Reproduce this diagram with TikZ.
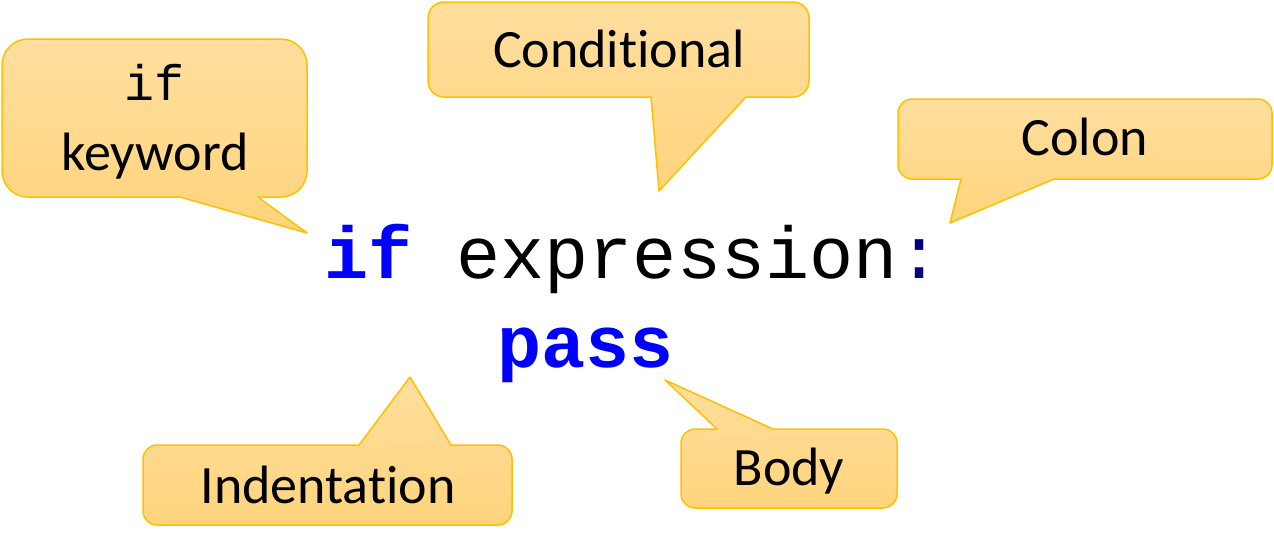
\documentclass[tikz,border=0pt]{standalone}
\usepackage{fontspec}
\setmainfont{Carlito}[Ligatures=NoCommon,RawFeature={-liga;-dlig}]
\newfontfamily\codefont{Liberation Mono}
\definecolor{cborder}{RGB}{255,192,0}
\definecolor{ctop}{RGB}{255,222,158}
\definecolor{cbot}{RGB}{255,212,124}
\definecolor{kwblue}{RGB}{0,0,255}
\definecolor{colonnavy}{RGB}{0,0,128}
\tikzset{
  callout/.style={draw=cborder, line width=1.5pt, top color=ctop, bottom color=cbot, line join=round},
  lbl/.style={anchor=base, inner sep=0pt, font=\fontsize{54}{60}\selectfont},
  code/.style={anchor=base west, inner sep=0pt, font=\codefont\fontsize{73.5}{80}\selectfont},
}
\begin{document}
\begin{tikzpicture}[x=1pt,y=1pt]
\useasboundingbox (0,0) rectangle (1274,-552);
% if keyword callout (pointer bottom)
\path[callout] (28,-39) -- (281,-39) arc[start angle=90,end angle=0,radius=26] -- (307,-171) arc[start angle=0,end angle=-90,radius=26]
  -- (258,-197) -- (307,-233) -- (180,-197) -- (28,-197) arc[start angle=270,end angle=180,radius=26] -- (2,-65) arc[start angle=180,end angle=90,radius=26] -- cycle;
% Conditional callout
\path[callout] (444,-2) -- (793,-2) arc[start angle=90,end angle=0,radius=16] -- (809,-81) arc[start angle=0,end angle=-90,radius=16]
  -- (746,-97) -- (659,-191) -- (651,-97) -- (444,-97) arc[start angle=270,end angle=180,radius=16] -- (428,-18) arc[start angle=180,end angle=90,radius=16] -- cycle;
% Colon callout
\path[callout] (912,-99) -- (1258,-99) arc[start angle=90,end angle=0,radius=14] -- (1272,-165) arc[start angle=0,end angle=-90,radius=14]
  -- (1054,-179) -- (950,-223) -- (961,-179) -- (912,-179) arc[start angle=270,end angle=180,radius=14] -- (898,-113) arc[start angle=180,end angle=90,radius=14] -- cycle;
% Indentation callout (pointer top)
\path[callout] (157,-445) -- (359,-445) -- (410,-377) -- (451,-445) -- (498,-445) arc[start angle=90,end angle=0,radius=14] -- (512,-511) arc[start angle=0,end angle=-90,radius=14]
  -- (157,-525) arc[start angle=270,end angle=180,radius=14] -- (143,-459) arc[start angle=180,end angle=90,radius=14] -- cycle;
% Body callout (pointer top)
\path[callout] (695,-429) -- (717,-429) -- (665,-380) -- (773,-429) -- (883,-429) arc[start angle=90,end angle=0,radius=14] -- (897,-494) arc[start angle=0,end angle=-90,radius=14]
  -- (695,-508) arc[start angle=270,end angle=180,radius=14] -- (681,-443) arc[start angle=180,end angle=90,radius=14] -- cycle;
% labels
\node[anchor=base, inner sep=0pt, font=\codefont\fontsize{50}{54}\selectfont] (lif) at (155,-100) {if};
\node[lbl] (lkw) at (155,-170) {keyword};
\node[lbl] (lcond) at (619,-67) {Condit\kern0pt ional};
\node[lbl] (lcolon) at (1085,-155) {Colon};
\node[lbl] (lind) at (328,-503) {Indentat\kern0pt ion};
\node[lbl] (lbody) at (789,-485) {Body};
% code
\node[code] (c1) at (324,-278) {\textcolor{kwblue}{\bfseries if} expression\textcolor{colonnavy}{:}};
\node[code] (c2) at (497,-367) {\textcolor{kwblue}{\bfseries pass}};
\end{tikzpicture}
\end{document}
